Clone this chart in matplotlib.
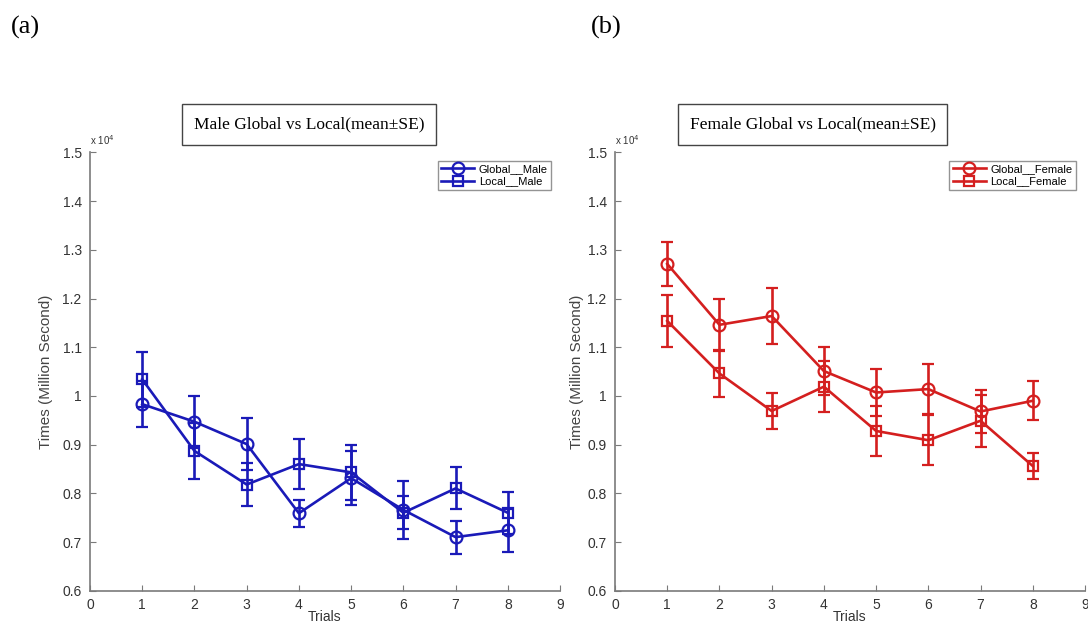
import matplotlib
matplotlib.use('Agg')
import matplotlib.pyplot as plt
from matplotlib.patches import Rectangle

plt.rcParams['font.family'] = ['Liberation Sans', 'DejaVu Sans']

# trials and mean +- SE (milliseconds)
trials = [1, 2, 3, 4, 5, 6, 7, 8]

male_global = [9830, 9470, 9010, 7590, 8310, 7660, 7100, 7240]
male_global_se = [470, 530, 540, 280, 550, 600, 340, 440]
male_local = [10340, 8870, 8180, 8600, 8430, 7600, 8100, 7600]
male_local_se = [570, 580, 440, 520, 570, 340, 430, 430]

female_global = [12710, 11460, 11640, 10510, 10070, 10140, 9680, 9900]
female_global_se = [450, 540, 570, 490, 480, 510, 440, 400]
female_local = [11540, 10460, 9690, 10190, 9280, 9090, 9490, 8560]
female_local_se = [530, 480, 370, 530, 510, 510, 530, 270]

yticks = [6000, 7000, 8000, 9000, 10000, 11000, 12000, 13000, 14000, 15000]
xticks = list(range(10))

W, H = 1088, 623
BLUE = '#1a1ab8'
RED = '#d41f1f'
GREY = '#7a7a7a'

fig = plt.figure(figsize=(W / 100, H / 100), dpi=100)


def px(x, y):
    # pixel (top-left origin) -> figure fraction
    return x / W, 1 - y / H


def panel(left_px, glob, glob_se, loc, loc_se, color, names, title, title_box, leg_anchor, ylab_x):
    x0, _ = px(left_px, 0)
    _, y0 = px(0, 590.7)
    ax = fig.add_axes([x0, y0, 470 / W, 438.3 / H])

    e1 = ax.errorbar(trials, glob, yerr=glob_se, color=color, marker='o', mfc='none',
                     ms=8.5, mew=1.6, lw=1.9, capsize=4, elinewidth=1.9, capthick=1.9)
    e2 = ax.errorbar(trials, loc, yerr=loc_se, color=color, marker='s', mfc='none',
                     ms=7, mew=1.6, lw=1.9, capsize=4, elinewidth=1.9, capthick=1.9)

    ax.set_xlim(0, 9)
    ax.set_ylim(6000, 15000)
    ax.set_xticks(xticks)
    ax.set_yticks(yticks)
    ax.set_yticklabels(['%g' % (v / 1e4) for v in yticks])
    for s in ['top', 'right']:
        ax.spines[s].set_visible(False)
    for s in ['left', 'bottom']:
        ax.spines[s].set_color(GREY)
        ax.spines[s].set_linewidth(1.2)
    ax.tick_params(direction='in', length=4, color=GREY, labelcolor='#333333',
                   labelsize=10, pad=6)
    ax.tick_params(axis='x', pad=5)

    ax.text(0, 1.012, r'x 10$^4$', transform=ax.transAxes, fontsize=7,
            color='#333333', va='bottom', ha='left')

    ax.set_xlabel('Trials', fontsize=10, color='#333333')
    ax.xaxis.set_label_coords(0.5, -0.045)
    ax.set_ylabel('Times (Million Second)', fontsize=11, color='#444444')
    ax.yaxis.set_label_coords(ylab_x, 0.5)

    leg = ax.legend([e1[0], e2[0]], names, loc='upper right',
                    bbox_to_anchor=px(*leg_anchor), bbox_transform=fig.transFigure,
                    fancybox=False, fontsize=8, handlelength=3, borderpad=0.3,
                    labelspacing=0.2, handletextpad=0.4, borderaxespad=0)
    leg.get_frame().set_edgecolor(GREY)
    leg.get_frame().set_linewidth(1)

    bx0, by0, bx1, by1 = title_box
    fx0, fy1 = px(bx0, by0)
    fx1, fy0 = px(bx1, by1)
    fig.add_artist(Rectangle((fx0, fy0), fx1 - fx0, fy1 - fy0, transform=fig.transFigure,
                             fill=False, edgecolor='#444444', lw=1))
    fig.text((fx0 + fx1) / 2, (fy0 + fy1) / 2, title, family='Liberation Serif',
             fontsize=12.5, ha='center', va='center')
    return ax


panel(90, male_global, male_global_se, male_local, male_local_se, BLUE,
      ['Global__Male', 'Local__Male'], 'Male Global vs Local(mean\u00b1SE)',
      (182, 104, 436, 145), (551, 161), -0.079)
panel(615, female_global, female_global_se, female_local, female_local_se, RED,
      ['Global__Female', 'Local__Female'], 'Female Global vs Local(mean\u00b1SE)',
      (678, 104, 947, 145), (1076, 161), -0.066)

fig.text(*px(11, 27), '(a)', family='Liberation Serif', fontsize=19, va='center')
fig.text(*px(591, 27), '(b)', family='Liberation Serif', fontsize=19, va='center')

fig.savefig('out.png', dpi=100)
